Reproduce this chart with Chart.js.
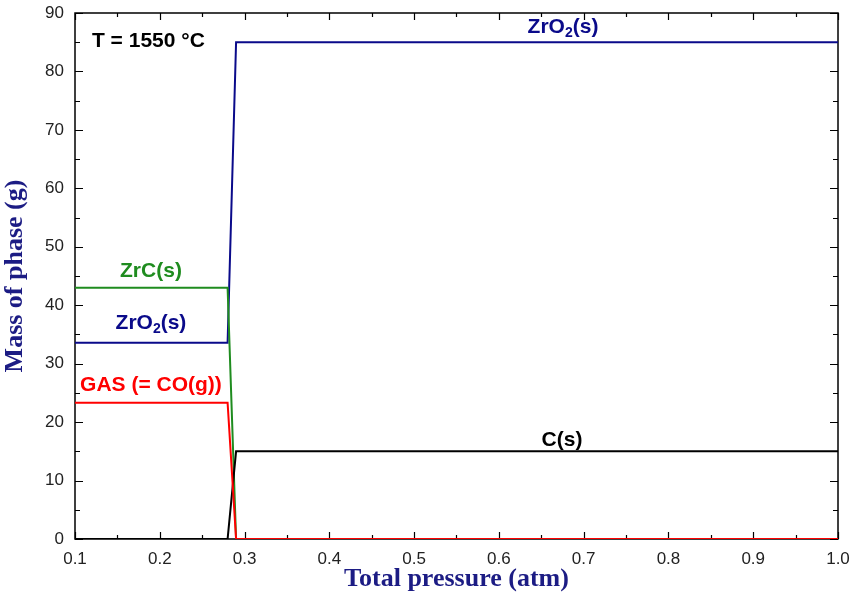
<!DOCTYPE html>
<html>
<head>
<meta charset="utf-8">
<script src="https://cdn.jsdelivr.net/npm/chart.js@4.4.1/dist/chart.umd.min.js"></script>
<style>
html,body{margin:0;padding:0;background:#fff;}
#wrap{width:850px;height:595px;}
</style>
</head>
<body>
<div id="wrap"><canvas id="c" width="850" height="595"></canvas></div>
<script>
// ---- data ----
const pressure = [0.1, 0.28, 0.29, 1.0];          // total pressure (atm)
const massZrO2 = [33.6, 33.6, 85, 85];             // ZrO2(s)
const massZrC  = [43, 43, 0, 0];                   // ZrC(s)
const massGas  = [23.3, 23.3, 0, 0];               // GAS (= CO(g))
const massC    = [0, 0, 15, 15];                   // C(s)
const xTicks = [0.1,0.2,0.3,0.4,0.5,0.6,0.7,0.8,0.9,1.0];
const yTicks = [0,10,20,30,40,50,60,70,80,90];
// annotation labels
const labels = [
  {parts:[["T = 1550 °C",0]], x:0.12, y:85.2, color:'#000000', align:'left'},
  {parts:[["ZrO",0],["2",1],["(s)",0]], x:0.6756, y:87.6, color:'#0a0a8a', align:'center'},
  {parts:[["ZrC(s)",0]], x:0.1896, y:45.9, color:'#1f8c1f', align:'center'},
  {parts:[["ZrO",0],["2",1],["(s)",0]], x:0.1896, y:37.0, color:'#0a0a8a', align:'center'},
  {parts:[["GAS (= CO(g))",0]], x:0.1896, y:26.3, color:'#ff0000', align:'center'},
  {parts:[["C(s)",0]], x:0.6744, y:16.9, color:'#000000', align:'center'}
];

const pts = arr => pressure.map((p,i)=>({x:p, y:arr[i]}));

const framePlugin = {
  id:'frame',
  beforeDatasetsDraw(chart){
    const {ctx, chartArea:a, scales:{x, y}} = chart;
    ctx.save();
    ctx.strokeStyle = '#000';
    ctx.lineWidth = 1.5;
    ctx.strokeRect(a.left, a.top, a.right-a.left, a.bottom-a.top);
    ctx.lineWidth = 1.2;
    ctx.beginPath();
    for (let v = 0.1; v <= 1.0001; v += 0.05) {
      const px = Math.round(x.getPixelForValue(v)) + 0.5;
      const major = Math.abs(Math.round(v*10) - v*10) < 1e-6;
      const len = major ? 7 : 4;
      ctx.moveTo(px, a.bottom); ctx.lineTo(px, a.bottom-len);
      ctx.moveTo(px, a.top); ctx.lineTo(px, a.top+len);
    }
    for (let v = 0; v <= 90.001; v += 5) {
      const py = Math.round(y.getPixelForValue(v)) + 0.5;
      const major = (Math.round(v) % 10) === 0;
      const len = major ? 8 : 5;
      ctx.moveTo(a.left, py); ctx.lineTo(a.left+len, py);
      ctx.moveTo(a.right, py); ctx.lineTo(a.right-len, py);
    }
    ctx.stroke();
    ctx.restore();
  },
  afterDatasetsDraw(chart){
    const {ctx, scales:{x, y}} = chart;
    ctx.save();
    ctx.textBaseline = 'middle';
    const mainFont = 'bold 21px "Liberation Sans", Arial, sans-serif';
    const subFont = 'bold 14px "Liberation Sans", Arial, sans-serif';
    labels.forEach(l => {
      let total = 0;
      l.parts.forEach(([t,s]) => { ctx.font = s ? subFont : mainFont; total += ctx.measureText(t).width; });
      const cx = x.getPixelForValue(l.x), cy = y.getPixelForValue(l.y);
      let px = l.align === 'center' ? cx - total/2 : cx;
      ctx.fillStyle = l.color;
      ctx.textAlign = 'left';
      l.parts.forEach(([t,s]) => {
        ctx.font = s ? subFont : mainFont;
        ctx.fillText(t, px, s ? cy + 6 : cy);
        px += ctx.measureText(t).width;
      });
    });
    ctx.restore();
  }
};

new Chart(document.getElementById('c'), {
  type:'line',
  data:{
    datasets:[
      {label:'GAS (= CO(g))', data:pts(massGas), borderColor:'#ff0000', borderWidth:2},
      {label:'C(s)', data:pts(massC), borderColor:'#000000', borderWidth:2},
      {label:'ZrC(s)', data:pts(massZrC), borderColor:'#1f8c1f', borderWidth:2},
      {label:'ZrO2(s)', data:pts(massZrO2), borderColor:'#0a0a8a', borderWidth:2}
    ]
  },
  options:{
    responsive:false,
    animation:false,
    devicePixelRatio:1,
    elements:{point:{radius:0}, line:{tension:0, fill:false}},
    layout:{padding:{top:13, right:12, left:0, bottom:0}},
    plugins:{legend:{display:false}, tooltip:{enabled:false}},
    scales:{
      x:{
        type:'linear', min:0.1, max:1.0,
        afterBuildTicks(s){ s.ticks = xTicks.map(v=>({value:v})); },
        afterFit(s){ s.height = 56; s.paddingLeft = 0; s.paddingRight = 0; },
        grid:{display:false, drawTicks:false},
        border:{display:false},
        ticks:{padding:10, color:'#222', font:{family:'"Liberation Sans", Arial, sans-serif', size:17},
               callback:v=>Number(v).toFixed(1), maxRotation:0, autoSkip:false},
        title:{display:true, text:'Total pressure (atm)', color:'#1c1c84',
               font:{family:'"Liberation Serif", "Times New Roman", serif', size:26, weight:'bold'},
               padding:{top:0, bottom:0}}
      },
      y:{
        type:'linear', min:0, max:90,
        afterBuildTicks(s){ s.ticks = yTicks.map(v=>({value:v})); },
        afterFit(s){ s.width = 75; s.paddingTop = 0; s.paddingBottom = 0; },
        grid:{display:false, drawTicks:false},
        border:{display:false},
        ticks:{padding:11, color:'#222', font:{family:'"Liberation Sans", Arial, sans-serif', size:17}, autoSkip:false},
        title:{display:true, text:'Mass of phase (g)', color:'#1c1c84',
               font:{family:'"Liberation Serif", "Times New Roman", serif', size:26, weight:'bold'},
               padding:{top:0, bottom:0}}
      }
    }
  },
  plugins:[framePlugin]
});
</script>
</body>
</html>
